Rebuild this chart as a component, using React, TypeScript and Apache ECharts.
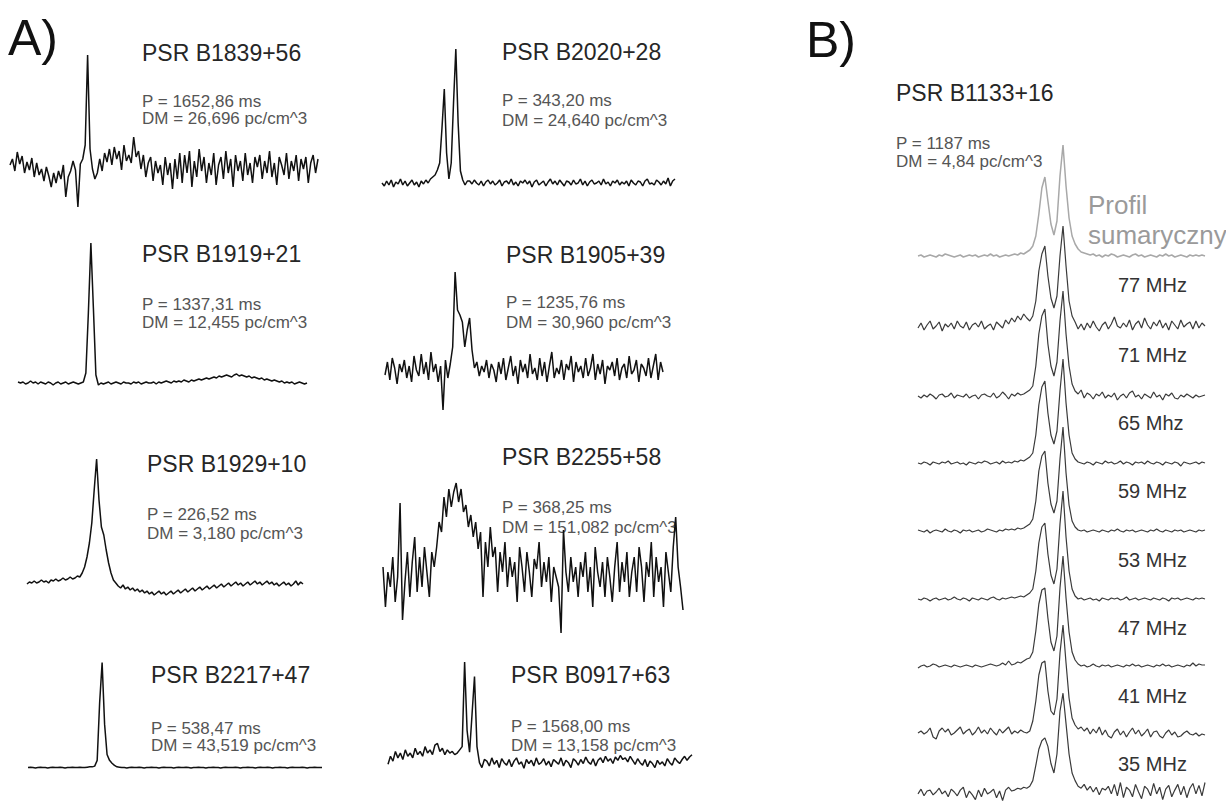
import React, { useEffect, useRef } from "react";
import * as echarts from "echarts";

// ---------- Panel A: pulse profiles (relative intensity, arbitrary units) ----------
const psrB1839p56 = [2,8,-4,15,3,11,-6,5,-3,9,-10,4,-8,-2,-14,0,-9,-20,-6,-16,-4,-12,2,-30,-10,-4,6,-3,-40,3,8,22,112,18,-2,-12,-6,8,-4,14,5,18,2,20,8,16,-3,22,6,12,4,30,10,16,-2,12,-10,4,10,-14,6,-6,2,-18,10,-8,4,-22,8,-12,14,-16,12,-6,16,-20,6,-10,18,-4,10,-16,4,-8,14,-18,2,10,-12,16,-6,8,-20,12,-4,6,-14,14,-8,4,-16,10,0,12,-12,6,-6,16,-10,4,-18,10,2,-8,14,-12,6,-4,12,-14,8,-2,10,-16,4,12,-6,8];
const psrB2020p28 = [0,-3,2,-2,3,-4,1,-1,4,-2,2,-3,0,3,-2,1,-4,2,-1,3,0,4,6,8,13,20,55,94,30,4,20,80,134,60,12,3,-2,2,2,-1,3,0,-2,2,-3,1,3,-1,2,-2,0,3,-3,1,2,-1,4,-2,1,-3,2,0,3,-1,2,-4,1,3,-2,0,2,-3,1,4,-1,2,-2,3,0,-3,2,1,-2,3,-1,0,4,-2,2,-3,1,3,-1,0,2,-2,4,-1,1,-3,2,0,3,-2,1,-1,2,-3,3,0,-2,2,1,-3,2,4,-1,0,-2,3,1,-2,2,-1,5,-3,2,4];
const psrB1919p21 = [1,0,1,-1,0,2,0,1,-1,1,0,-1,1,0,-2,0,1,-1,0,1,-1,0,1,0,-1,0,1,10,70,140,75,8,-2,0,-1,0,1,-1,0,1,0,-1,1,0,0,-1,1,0,1,-1,0,1,0,0,1,-1,1,0,1,2,1,0,2,1,2,1,3,2,1,3,2,3,4,3,4,5,4,5,6,5,7,6,7,8,7,6,8,9,7,8,7,6,7,5,6,5,4,5,3,4,3,2,3,2,1,2,0,1,0,1,-1,0,1,0,-1,0];
const psrB1905p39 = [-5,8,-10,12,2,-14,6,-2,10,-8,4,-12,14,0,-6,16,-4,8,-10,18,-2,6,-12,4,-40,10,-8,6,23,98,60,55,48,23,40,52,20,2,8,-6,4,-2,10,-8,6,0,-12,8,-4,12,-10,2,14,-6,4,-14,10,-2,6,-8,16,-4,2,-10,12,-6,8,-12,4,18,-8,2,-4,10,-10,6,0,14,-12,8,-2,4,-8,12,-6,2,16,-10,6,-4,10,-14,4,0,8,-6,12,-10,2,6,-8,14,-4,0,10,-12,6,2,-6,12,-8,4,16,-10,8,-2];
const psrB1929p10 = [1,3,2,4,2,3,5,3,4,2,5,4,6,4,5,7,5,6,8,6,7,9,8,12,18,28,42,62,95,126,85,58,50,35,22,12,5,2,-1,-3,0,-4,-2,-5,-3,-6,-4,-7,-5,-8,-6,-9,-7,-10,-8,-6,-9,-7,-10,-8,-6,-9,-7,-5,-8,-6,-4,-7,-5,-3,-6,-4,-2,-5,-3,-1,-4,-2,0,-3,-1,1,-2,0,2,-1,1,3,0,2,-1,1,3,0,2,4,1,3,0,2,4,1,3,0,2,-1,1,3,0,2,-1,1,4,0,3,1];
const psrB2255p58 = [10,-30,5,-10,20,-25,0,74,-43,-5,25,-20,15,40,-15,20,-10,30,5,-20,25,10,30,55,45,80,60,88,70,85,94,75,88,65,72,50,62,40,55,28,45,-20,35,10,50,20,30,-15,25,5,35,-10,20,0,15,-25,30,10,-15,25,5,-20,18,8,35,-10,15,-5,20,-25,10,0,-10,-56,47,5,-15,20,-5,10,-20,15,0,25,-15,10,-30,30,5,-10,15,-20,20,0,-25,10,35,-15,15,-5,25,-20,5,20,-15,30,10,-25,15,0,35,-20,20,-5,10,-30,25,5,-15,30,60,10,-10,-33];
const psrB2217p47 = [0,0.5,0,-0.5,0,0.5,0,0,-0.5,0,0.5,0,0,0.5,0,-0.5,0,0,0.5,0,0,0.5,0,0,0.5,1,1,2,10,90,145,60,18,10,6,3,1,0.5,0,0,-0.5,0,0.5,0,0,0.5,0,-0.5,0,0,0.5,0,0,-0.5,0,0.5,0,0,0,-0.5,0,0.5,0,0,0.5,0,-0.5,0,0,0.5,0,0,-0.5,0,0,0.5,0,0,-0.5,0,0.5,0,0,0,0.5,0,-0.5,0,0,0.5,0,0,-0.5,0,0.5,0,0,0.5,0,-0.5,0,0,0.5,0,0,-0.5,0,0.5,0,0,0,0.5,0,-0.5,0,0,0.5,0,0,0];
const psrB0917p63 = [-2,8,2,14,6,12,4,16,8,12,6,18,10,14,8,20,12,16,10,22,24,14,18,10,16,12,14,10,12,16,20,125,40,13,60,107,20,0,-6,4,2,-4,6,-2,3,-6,5,0,-3,4,-5,2,6,-2,1,-7,4,-1,3,-4,6,-2,0,5,-3,2,-5,4,1,-2,6,-4,3,0,-6,5,2,-3,4,-1,7,1,-2,5,-4,3,6,0,8,2,5,-1,7,3,9,4,6,1,8,3,-2,5,0,-3,4,-5,2,-1,-6,3,-2,1,-4,5,0,-3,6,2,-1,4,8,3,7,10];

const namesA = ["PSR B1839+56", "PSR B2020+28", "PSR B1919+21", "PSR B1905+39", "PSR B1929+10", "PSR B2255+58", "PSR B2217+47", "PSR B0917+63"];
const periodsA = ["1652,86", "343,20", "1337,31", "1235,76", "226,52", "368,25", "538,47", "1568,00"];
const dmsA = ["26,696", "24,640", "12,455", "30,960", "3,180", "151,082", "43,519", "13,158"];

// ---------- Panel B: PSR B1133+16, summed profile and sub-bands ----------
const b1133Sum = [0,1,-1,0,1,0,-1,1,0,2,1,0,-1,0,1,-1,0,1,0,1,-1,0,1,0,2,0,1,-1,0,1,0,1,2,1,3,2,4,6,10,20,42,68,79,55,32,21,35,80,111,70,38,20,12,7,4,3,2,1,2,0,1,-1,1,0,2,1,-1,0,1,0,-1,1,2,0,1,-1,0,1,0,-1,1,0,2,0,1,-1,0,1,0,-1,1,0,1,0,1,0];
const b1133F77 = [-2,3,-4,1,5,-3,0,4,-5,2,-1,3,-3,5,0,-2,4,-4,1,3,-1,5,-3,0,2,-4,4,1,-2,6,2,8,4,10,6,12,8,5,10,25,55,72,80,50,28,18,30,70,100,60,25,10,4,-3,2,-4,3,-2,5,-1,-5,1,4,-3,2,9,0,-2,3,-1,6,-4,2,5,-2,8,1,-3,4,0,6,-2,3,-4,5,1,-3,6,-1,2,4,-3,5,-2,3,0];
const b1133F71 = [0,-2,1,-1,2,0,-3,1,2,-1,0,3,-2,1,0,-1,2,-2,0,1,-3,1,2,0,-1,3,-2,0,4,1,-3,2,0,3,1,2,4,6,10,30,62,80,87,52,30,20,34,75,105,62,30,12,5,2,6,-2,3,1,-3,2,0,4,-2,1,-1,3,-4,0,2,-2,3,5,-1,1,-3,2,0,-2,4,-1,1,-4,2,0,3,-2,-3,1,-1,2,0,-2,1,-1,0,1];
const b1133F65 = [0,-1,1,0,-2,1,0,-1,1,0,2,-1,0,1,-1,0,-2,1,0,-1,1,0,2,1,-1,0,1,-1,2,0,1,0,2,1,3,2,4,6,10,28,58,76,82,50,28,19,32,72,104,60,28,10,4,1,0,-1,1,0,-2,1,0,-1,2,0,1,-1,0,2,-1,1,0,-2,1,0,1,-1,2,0,-1,1,0,-2,1,0,-1,1,0,-3,1,0,-1,0,1,-1,1,0];
const b1133F59 = [1,0,-1,1,-2,0,1,0,-1,2,0,-1,1,0,-2,1,0,1,-1,0,1,-1,0,2,1,0,-1,1,0,2,1,2,1,3,2,3,5,7,12,30,60,75,80,48,27,18,30,72,104,58,26,10,4,1,0,1,-1,0,1,0,-1,1,0,-1,1,0,2,0,-1,1,0,1,-1,0,1,0,-1,1,0,2,0,-1,1,0,-1,1,0,1,-1,0,1,0,-1,1,0,1];
const b1133F53 = [0,-1,1,0,-2,0,1,-1,0,1,-1,0,2,0,-1,1,0,-2,1,0,-1,1,0,-1,1,2,0,-1,1,0,1,2,1,2,3,2,4,6,10,28,56,72,76,45,24,15,30,75,108,62,28,10,3,0,1,-1,0,1,-1,0,-2,1,0,-1,1,0,1,-1,0,2,-1,0,1,-1,0,1,0,-1,1,0,-1,1,0,-2,1,0,1,-1,0,1,0,-1,1,0,1,0];
const b1133F47 = [-2,0,1,-1,0,2,1,-1,0,1,0,-1,1,0,-1,0,1,0,-1,1,0,-1,0,1,2,1,0,1,3,1,5,1,2,4,3,5,7,8,14,35,62,76,78,48,24,15,30,78,110,68,34,14,6,2,0,1,-1,0,2,0,-1,1,0,1,-1,0,1,0,-1,1,0,2,0,1,-1,0,1,0,-1,1,0,2,0,1,-1,0,1,0,-1,1,0,3,0,2,1,1];
const b1133F41 = [0,2,-1,1,5,-4,-6,2,5,1,4,-2,0,3,6,-1,2,4,-2,1,6,0,3,-1,5,1,-2,4,0,3,6,-1,2,0,3,1,0,2,12,32,58,70,72,42,22,18,34,80,108,70,35,15,8,4,6,2,5,-1,4,0,6,-2,3,-3,-5,1,4,-2,2,-4,1,5,-1,3,-3,0,4,-4,1,2,-3,-5,0,3,-2,1,-4,-3,0,2,-1,-2,0,-3,-1,-2];
const b1133F35 = [-2,3,-4,1,2,-3,0,4,-2,1,-5,3,0,-4,2,5,-6,1,-3,-8,2,-5,4,-2,0,3,-6,1,-9,2,5,1,2,4,3,5,4,6,12,28,45,54,57,48,30,20,40,85,104,72,40,20,12,6,4,8,2,6,0,5,-3,4,2,6,-2,8,-4,10,-6,5,2,-5,8,0,-7,6,3,-4,9,-2,5,-8,3,7,-5,2,8,-3,6,-6,4,9,-2,7,-4,10];

const bandsB = [b1133F77, b1133F71, b1133F65, b1133F59, b1133F53, b1133F47, b1133F41, b1133F35];
const freqLabelsB = ["77 MHz", "71 MHz", "65 Mhz", "59 MHz", "53 MHz", "47 MHz", "41 MHz", "35 MHz"];
const nameB = "PSR B1133+16";
const periodB = "1187";
const dmB = "4,84";

// ---------- Layout (pixels) ----------
const layoutA = [
  { x0: 10, x1: 318, base: 167, tx: 142, ty: 53, py: 101, dy: 118 },
  { x0: 382, x1: 675, base: 183, tx: 502, ty: 52, py: 100, dy: 120 },
  { x0: 18, x1: 307, base: 383, tx: 142, ty: 254, py: 304, dy: 322 },
  { x0: 385, x1: 663, base: 370, tx: 506, ty: 255, py: 302, dy: 322 },
  { x0: 27, x1: 303, base: 585, tx: 147, ty: 464, py: 514, dy: 533 },
  { x0: 383, x1: 683, base: 577, tx: 502, ty: 457, py: 507, dy: 527 },
  { x0: 28, x1: 322, base: 809, tx: 151, ty: 675, py: 728, dy: 745 },
  { x0: 388, x1: 692, base: 792, tx: 511, ty: 675, py: 726, dy: 745 },
];
const profilesA = [psrB1839p56, psrB2020p28, psrB1919p21, psrB1905p39, psrB1929p10, psrB2255p58, psrB2217p47, psrB0917p63];
const baseSumB = 256;
const basesB = [326, 396, 463, 531, 599, 666, 733, 798];
const labelYB = [285, 355, 423, 491, 560, 628, 696, 764];
const bx0 = 918;
const bx1 = 1205;

const FONT = '"Liberation Sans", Arial, Helvetica, sans-serif';

function buildOption() {
  const grid: any[] = [];
  const xAxis: any[] = [];
  const yAxis: any[] = [];
  const series: any[] = [];
  const add = (data: number[], x0: number, x1: number, base: number, min: number, max: number, color: string, width: number) => {
    const i = grid.length;
    grid.push({ left: x0, top: base - max, width: x1 - x0, height: max - min, show: false });
    xAxis.push({ type: "category", gridIndex: i, show: false, boundaryGap: false, data: data.map((_, k) => k) });
    yAxis.push({ type: "value", gridIndex: i, show: false, min, max });
    series.push({
      type: "line", xAxisIndex: i, yAxisIndex: i, data, symbol: "none", showSymbol: false,
      silent: true, clip: false, z: 3, lineStyle: { color, width }, emphasis: { disabled: true },
    });
  };
  profilesA.forEach((p, i) => {
    const l = layoutA[i];
    add(p, l.x0, l.x1, l.base, -60, 150, "#111", 1.5);
  });
  add(b1133Sum, bx0, bx1, baseSumB, -20, 120, "#a8a8a8", 1.5);
  bandsB.forEach((p, i) => add(p, bx0, bx1, basesB[i], -20, 120, "#3a3a3a", 1.2));

  const txt = (text: string, x: number, y: number, size: number, fill: string) => ({
    type: "text", x, y, silent: true, z: 1,
    style: {
      text, fill, fontSize: size, fontFamily: FONT,
      textAlign: "left", align: "left", textVerticalAlign: "middle", verticalAlign: "middle",
    },
  });
  const graphic: any[] = [];
  graphic.push(txt("A)", 8, 38, 50, "#111"));
  graphic.push(txt("B)", 806, 40, 50, "#111"));
  layoutA.forEach((l, i) => {
    graphic.push(txt(namesA[i], l.tx, l.ty, 23, "#262626"));
    graphic.push(txt(`P = ${periodsA[i]} ms`, l.tx, l.py, 17, "#555"));
    graphic.push(txt(`DM = ${dmsA[i]} pc/cm^3`, l.tx, l.dy, 17, "#555"));
  });
  graphic.push(txt(nameB, 896, 93, 23, "#262626"));
  graphic.push(txt(`P = ${periodB} ms`, 896, 143, 17, "#555"));
  graphic.push(txt(`DM = ${dmB} pc/cm^3`, 896, 161, 17, "#555"));
  graphic.push(txt("Profil", 1088, 205, 26, "#9a9a9a"));
  graphic.push(txt("sumaryczny", 1088, 235, 26, "#9a9a9a"));
  freqLabelsB.forEach((t, i) => graphic.push(txt(t, 1118, labelYB[i], 20, "#333")));

  return { animation: false, backgroundColor: "#fff", grid, xAxis, yAxis, series, graphic, tooltip: { show: false } };
}

export default function App() {
  const ref = useRef<HTMLDivElement>(null);
  useEffect(() => {
    if (!ref.current) return;
    const chart = echarts.init(ref.current, null, { renderer: "svg" });
    chart.setOption(buildOption() as any);
    return () => chart.dispose();
  }, []);
  return <div ref={ref} style={{ position: "absolute", left: 0, top: 0, width: 1226, height: 811, background: "#fff" }} />;
}
